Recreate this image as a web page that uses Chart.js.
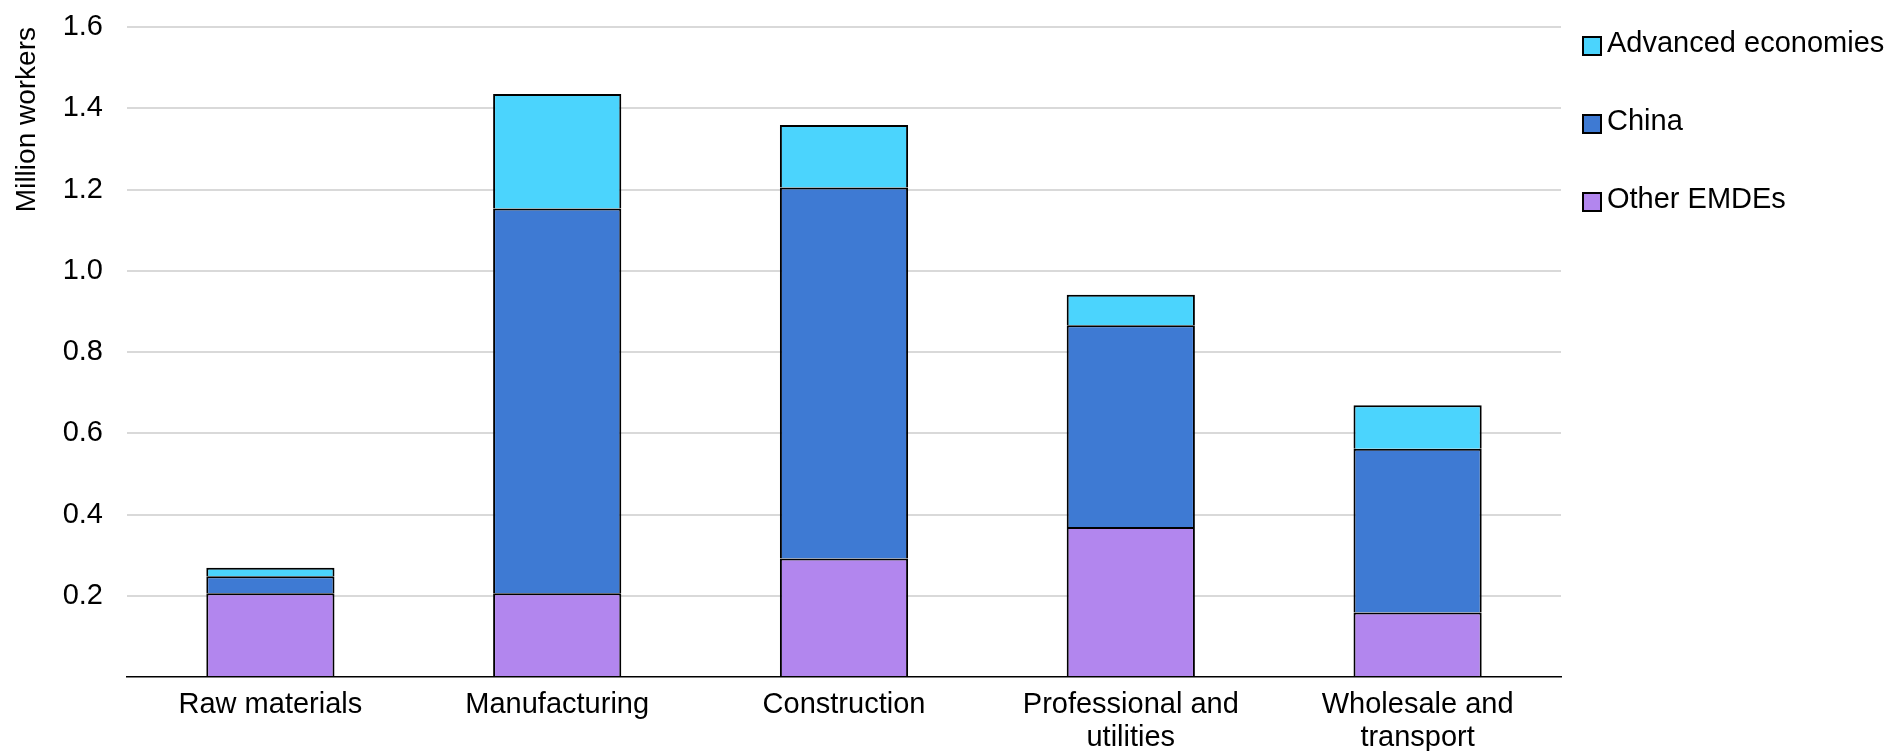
<!DOCTYPE html>
<html>
<head>
<meta charset="utf-8">
<title>Million workers by sector</title>
<script src="https://cdn.jsdelivr.net/npm/chart.js@4"></script>
<style>
  html, body { margin: 0; padding: 0; background: #ffffff; }
  #chartBox { width: 1890px; height: 751px; }
</style>
</head>
<body>
<div id="chartBox"><canvas id="workersChart"></canvas></div>
<script>
// ------ //
//  DATA  //
// ------ //

var sectors = [
  "Raw materials",
  ["Manufacturing"],
  "Construction",
  ["Professional and", "utilities"],
  ["Wholesale and", "transport"]
];

// Stack order, bottom to top
var otherEmdes = [0.206, 0.206, 0.292, 0.369, 0.159];
var china      = [0.042, 0.947, 0.913, 0.497, 0.403];
var advanced   = [0.021, 0.282, 0.154, 0.075, 0.107];

var yTicks = [0.2, 0.4, 0.6, 0.8, 1.0, 1.2, 1.4, 1.6];

var fontFamily = "'Liberation Sans', Arial, sans-serif";

// ------------------ //
//  HELPER FUNCTIONS  //
// ------------------ //

// Draws the legend on the right, top series first (same look as the source chart)
var sideLegend = {
  id: "sideLegend",
  afterDraw: function (chart) {
    var ctx = chart.ctx;
    var sets = chart.data.datasets.slice().reverse();
    ctx.save();
    ctx.font = "29px " + fontFamily;
    ctx.textBaseline = "alphabetic";
    ctx.textAlign = "left";
    for (var i = 0; i < sets.length; i++) {
      var top = 37 + i * 78;
      ctx.fillStyle = sets[i].backgroundColor;
      ctx.fillRect(1583, top, 18, 18);
      ctx.lineWidth = 2;
      ctx.strokeStyle = "#000000";
      ctx.strokeRect(1583, top, 18, 18);
      ctx.fillStyle = "#000000";
      ctx.fillText(sets[i].label, 1607, top + 15);
    }
    ctx.restore();
  }
};

// ----------- //
//  THE CHART  //
// ----------- //

var ctx = document.getElementById("workersChart");
new Chart(ctx, {
  type: "bar",
  data: {
    labels: sectors,
    datasets: [
      { label: "Other EMDEs", data: otherEmdes, backgroundColor: "#B286EE" },
      { label: "China", data: china, backgroundColor: "#3E7AD3" },
      { label: "Advanced economies", data: advanced, backgroundColor: "#4BD4FD" }
    ]
  },
  options: {
    responsive: true,
    maintainAspectRatio: false,
    animation: false,
    datasets: {
      bar: {
        borderColor: "#000000",
        borderWidth: 2,
        barPercentage: 0.447,
        categoryPercentage: 1.0
      }
    },
    layout: {
      padding: { left: 10, right: 329, top: 27, bottom: 0 }
    },
    plugins: {
      legend: { display: false },
      tooltip: { enabled: false }
    },
    scales: {
      x: {
        stacked: true,
        grid: { display: false, drawTicks: false },
        border: { display: true, color: "#000000", width: 1.5 },
        ticks: {
          color: "#000000",
          padding: 12,
          maxRotation: 0,
          autoSkip: false,
          font: { family: fontFamily, size: 29, lineHeight: 1.12 }
        },
        afterFit: function (scale) { scale.height = 74; }
      },
      y: {
        stacked: true,
        min: 0,
        max: 1.6,
        afterBuildTicks: function (scale) {
          scale.ticks = [{ value: 0 }].concat(yTicks.map(function (v) { return { value: v }; }));
        },
        grid: {
          color: function (c) { return c.tick.value === 0 ? "rgba(0,0,0,0)" : "#D9D9D9"; },
          lineWidth: 2,
          drawTicks: true,
          tickLength: 22,
          tickColor: "rgba(0,0,0,0)"
        },
        border: { display: false },
        ticks: {
          color: "#000000",
          padding: 2,
          font: { family: fontFamily, size: 29 },
          callback: function (value) { return value === 0 ? "" : value.toFixed(1); }
        },
        title: {
          display: true,
          text: "Million workers",
          color: "#000000",
          align: "end",
          padding: { top: 0, bottom: 0 },
          font: { family: fontFamily, size: 28 }
        },
        afterFit: function (scale) { scale.width = 117; }
      }
    }
  },
  plugins: [sideLegend]
});
</script>
</body>
</html>
